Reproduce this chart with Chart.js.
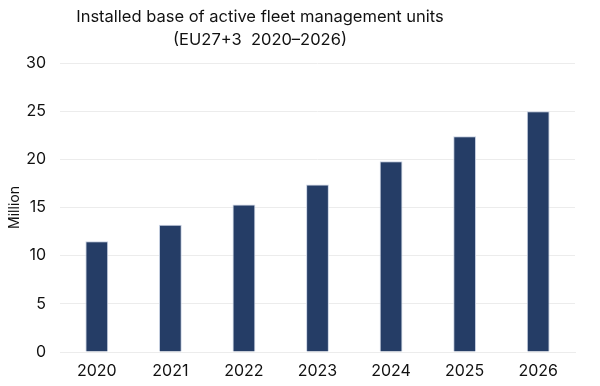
<!DOCTYPE html>
<html>
<head>
<meta charset="utf-8">
<script src="https://cdn.jsdelivr.net/npm/chart.js@4"></script>
<style>
  html, body { margin: 0; padding: 0; background: #fff; }
  #wrap { width: 600px; height: 386px; }
</style>
</head>
<body>
<div id="wrap"><canvas id="fleetChart"></canvas></div>
<script>
const years = ['2020', '2021', '2022', '2023', '2024', '2025', '2026'];
const unitsMillion = [11.5, 13.2, 15.3, 17.4, 19.8, 22.4, 25.0];
const titleLines = ['Installed base of active fleet management units', '(EU27+3  2020\u20132026)'];

// title sits left of the canvas centre in the original, so draw it ourselves
const offsetTitle = {
    id: 'offsetTitle',
    afterDraw(chart) {
        const c = chart.ctx;
        c.save();
        c.font = '16.5px Inter';
        c.fillStyle = '#111';
        c.textAlign = 'center';
        c.textBaseline = 'middle';
        titleLines.forEach((line, i) => c.fillText(line, 260, 17 + i * 23));
        c.restore();
    }
};

const ctx = document.getElementById('fleetChart').getContext('2d');
const fleetChart = new Chart(ctx, {
    type: 'bar',
    data: {
        labels: years,
        datasets: [{
            label: 'Installed base',
            data: unitsMillion,
            backgroundColor: '#253d66',
            borderColor: '#c9d2e3',
            borderWidth: 1,
            barPercentage: 0.31,
            categoryPercentage: 1.0
        }]
    },
    plugins: [offsetTitle],
    options: {
        responsive: true,
        maintainAspectRatio: false,
        animation: false,
        layout: { padding: { left: 6, right: 25, top: 63, bottom: 0 } },
        plugins: {
            legend: { display: false },
            tooltip: { enabled: false },
            title: { display: false }
        },
        scales: {
            y: {
                min: 0,
                max: 30,
                afterFit(scale) { scale.width = 54; },
                ticks: {
                    stepSize: 5,
                    font: { size: 16, family: 'Inter' },
                    color: '#111',
                    padding: 14
                },
                grid: { color: '#ececec', drawTicks: false },
                border: { display: false },
                title: {
                    display: true,
                    text: 'Million',
                    font: { size: 14, family: 'Inter' },
                    color: '#111',
                    padding: 0
                }
            },
            x: {
                afterFit(scale) { scale.height = 34; },
                ticks: {
                    font: { size: 16, family: 'Inter' },
                    color: '#111',
                    padding: 10
                },
                grid: { display: false, drawTicks: false },
                border: { color: '#ececec' }
            }
        }
    }
});
</script>
</body>
</html>
